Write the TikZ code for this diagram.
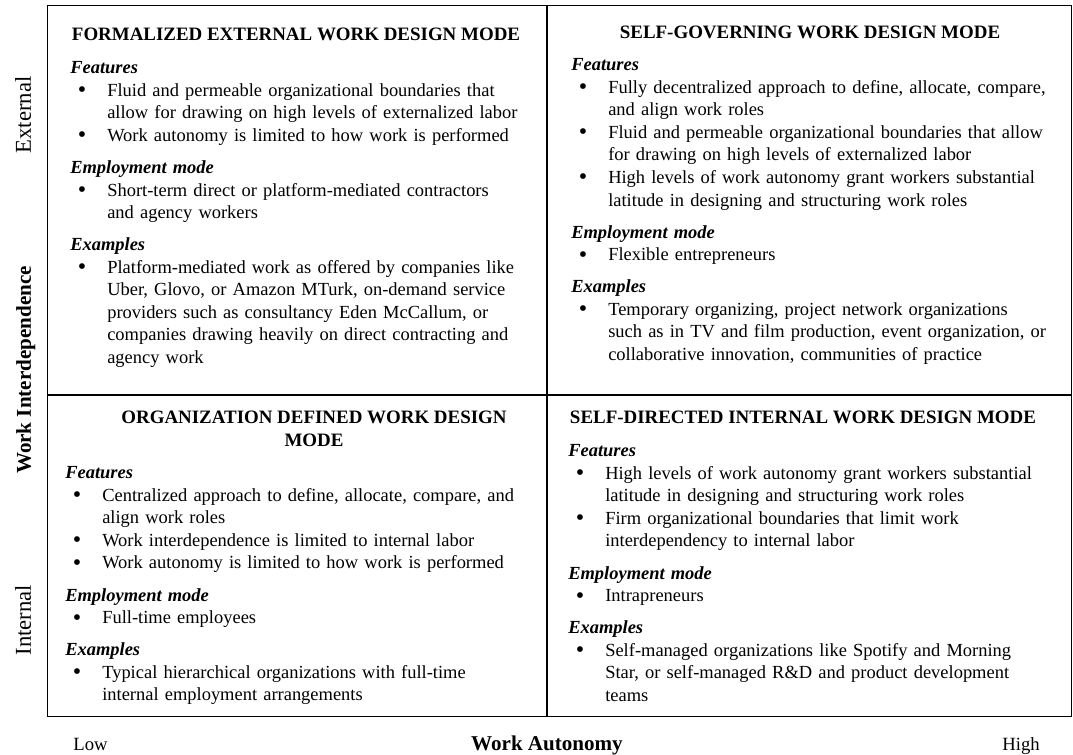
\documentclass[tikz,border=0pt]{standalone}
\usepackage{fontspec}
\setmainfont{Liberation Serif}
\usetikzlibrary{positioning,calc}

\newcommand{\bodyfont}{\fontsize{13.85}{16.9}\selectfont}
\newcommand{\bigbullet}{\smash{\raisebox{-1.1pt}{\fontsize{18}{18}\selectfont\textbullet}}}
\newcommand{\cellhead}[1]{\par\leftskip=0pt\rightskip=0pt plus 1fil\noindent\strut\textbf{\textit{#1}}\par}
\newcommand{\bitem}[1]{\par\leftskip=27.75pt\rightskip=0pt plus 1fil\noindent\llap{\bigbullet\hspace{15.8pt}}#1\par}
\newcommand{\gap}{\par\vspace{7.2pt}}

\begin{document}
\begin{tikzpicture}[x=0.75pt,y=-0.75pt,
        cellbody/.style={anchor=north west,inner sep=0,align=left,font=\bodyfont},
        celltitle/.style={anchor=base,inner sep=0,font=\fontsize{14.2}{16.9}\selectfont\bfseries},
        axis/.style={inner sep=0,font=\fontsize{17}{20}\selectfont},
        axisend/.style={inner sep=0,anchor=base,font=\fontsize{14}{17}\selectfont},
        axistitle/.style={inner sep=0,font=\fontsize{15.8}{19}\selectfont\bfseries}]
  \fill[white] (0,0) rectangle (1073,754);
  \useasboundingbox (0,0) rectangle (1073,754);

  % frame and cross
  \node[draw,line width=0.8pt,anchor=north west,inner sep=0,
        minimum width=768pt,minimum height=533.25pt] (frame) at (47,5) {};
  \coordinate (mid) at (547,395);
  \draw[line width=1.5pt] (mid |- frame.north) -- (mid |- frame.south);
  \draw[line width=1.5pt] (mid -| frame.west) -- (mid -| frame.east);

  % top left
  \node[celltitle] (tltitle) at (296,40.5) {FORMALIZED EXTERNAL WORK DESIGN MODE};
  \node[cellbody,text width=352pt] (tlbody) at (70,51) {%
    \cellhead{Features}
    \bitem{Fluid and permeable organizational boundaries that\newline allow for drawing on high levels of externalized labor}
    \bitem{Work autonomy is limited to how work is performed}
    \gap\cellhead{Employment mode}
    \bitem{Short-term direct or platform-mediated contractors\newline and agency workers}
    \gap\cellhead{Examples}
    \bitem{Platform-mediated work as offered by companies like\newline Uber, Glovo, or Amazon MTurk, on-demand service\newline providers such as consultancy Eden McCallum, or\newline companies drawing heavily on direct contracting and\newline agency work}};

  % top right
  \node[celltitle] (trtitle) at (810,38.5) {SELF-GOVERNING WORK DESIGN MODE};
  \node[cellbody,text width=367pt] (trbody) at (571,48) {%
    \cellhead{Features}
    \bitem{Fully decentralized approach to define, allocate, compare,\newline and align work roles}
    \bitem{Fluid and permeable organizational boundaries that allow\newline for drawing on high levels of externalized labor}
    \bitem{High levels of work autonomy grant workers substantial\newline latitude in designing and structuring work roles}
    \gap\cellhead{Employment mode}
    \bitem{Flexible entrepreneurs}
    \gap\cellhead{Examples}
    \bitem{Temporary organizing, project network organizations\newline such as in TV and film production, event organization, or\newline collaborative innovation, communities of practice}};

  % bottom left
  \node[celltitle,anchor=north,align=center] (bltitle) at (314,407.6)
    {\strut ORGANIZATION DEFINED WORK DESIGN\\MODE};
  \node[cellbody,text width=355pt] (blbody) at (65,456) {%
    \cellhead{Features}
    \bitem{Centralized approach to define, allocate, compare, and\newline align work roles}
    \bitem{Work interdependence is limited to internal labor}
    \bitem{Work autonomy is limited to how work is performed}
    \gap\cellhead{Employment mode}
    \bitem{Full-time employees}
    \gap\cellhead{Examples}
    \bitem{Typical hierarchical organizations with full-time\newline internal employment arrangements}};

  % bottom right
  \node[celltitle] (brtitle) at (803,423.5) {SELF-DIRECTED INTERNAL WORK DESIGN MODE};
  \node[cellbody,text width=367pt] (brbody) at (568,434) {%
    \cellhead{Features}
    \bitem{High levels of work autonomy grant workers substantial\newline latitude in designing and structuring work roles}
    \bitem{Firm organizational boundaries that limit work\newline interdependency to internal labor}
    \gap\cellhead{Employment mode}
    \bitem{Intrapreneurs}
    \gap\cellhead{Examples}
    \bitem{Self-managed organizations like Spotify and Morning\newline Star, or self-managed R\&D and product development\newline teams}};

  % axes
  \node[axis,rotate=90,anchor=base] (ext) at (31,115) {External};
  \node[axis,rotate=90,anchor=base] (int) at (31,620) {Internal};
  \node[axistitle,rotate=90,anchor=base] (wi) at (31,370) {Work Interdependence};
  \node[axisend] (low) at (90.5,750) {Low};
  \node[axistitle,anchor=base] (wa) at (547,750.5) {Work Autonomy};
  \node[axisend] (high) at (1021,750) {High};
\end{tikzpicture}
\end{document}
